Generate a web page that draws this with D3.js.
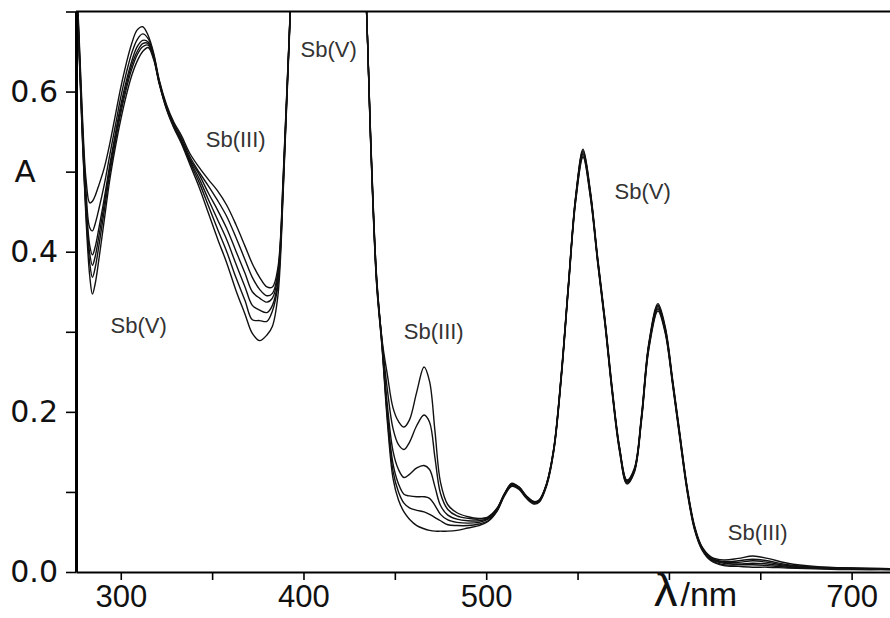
<!DOCTYPE html>
<html>
<head>
<meta charset="utf-8">
<script src="https://cdn.jsdelivr.net/npm/d3@7/dist/d3.min.js"></script>
<style>
body { margin: 0; background: #fff; }
</style>
</head>
<body>
<div id="plot"></div>
<script>
/* spectra: wavelength (nm) and absorbance A, six mixtures */
var wavelength = [275, 277, 279, 281, 283, 284.5, 286, 288, 291, 294, 297, 300, 303, 306, 309, 312, 315, 318, 321, 325,
  329, 333, 338, 343, 348, 353, 358, 363, 368, 372, 376, 380, 383, 386, 389, 392, 396, 405, 425, 431,
  434, 437, 440, 443, 446, 449, 452, 455, 458, 462, 466, 469, 472, 475, 479, 484, 490, 496, 501, 506,
  510, 514, 518, 522, 526, 529, 533, 537, 541, 545, 549, 553, 557, 561, 565, 569, 573, 577, 581, 585,
  589, 594, 598, 602, 606, 610, 614, 618, 623, 630, 638, 646, 654, 665, 680, 700, 725];

var spectrum1 = [0.78, 0.68, 0.57, 0.49, 0.461, 0.463, 0.470, 0.483, 0.505, 0.535, 0.570, 0.605, 0.635, 0.660, 0.677, 0.681, 0.670, 0.648, 0.615, 0.584,
  0.562, 0.546, 0.522, 0.505, 0.490, 0.476, 0.458, 0.434, 0.407, 0.385, 0.368, 0.356, 0.356, 0.380, 0.50, 0.66, 0.85, 1.0, 1.0, 0.85,
  0.73, 0.53, 0.37, 0.29, 0.245, 0.205, 0.188, 0.181, 0.190, 0.225, 0.256, 0.238, 0.175, 0.112, 0.084, 0.074, 0.069, 0.067, 0.069, 0.080,
  0.098, 0.111, 0.106, 0.095, 0.088, 0.090, 0.110, 0.155, 0.245, 0.360, 0.470, 0.528, 0.476, 0.393, 0.316, 0.229, 0.156, 0.115, 0.129, 0.196,
  0.286, 0.335, 0.306, 0.241, 0.173, 0.106, 0.058, 0.032, 0.019, 0.015, 0.017, 0.020, 0.017, 0.011, 0.007, 0.005, 0.004];

var spectrum2 = [0.774, 0.674, 0.561, 0.475, 0.430, 0.426, 0.435, 0.453, 0.484, 0.521, 0.557, 0.593, 0.623, 0.648, 0.665, 0.672, 0.666, 0.646, 0.614, 0.582,
  0.560, 0.543, 0.518, 0.499, 0.482, 0.464, 0.444, 0.418, 0.390, 0.368, 0.353, 0.345, 0.348, 0.374, 0.496, 0.658, 0.85, 1.0, 1.0, 0.85,
  0.73, 0.528, 0.368, 0.288, 0.226, 0.179, 0.159, 0.153, 0.162, 0.183, 0.196, 0.187, 0.142, 0.098, 0.078, 0.070, 0.067, 0.066, 0.068, 0.079,
  0.098, 0.110, 0.106, 0.095, 0.088, 0.090, 0.110, 0.154, 0.244, 0.359, 0.469, 0.526, 0.474, 0.391, 0.314, 0.227, 0.154, 0.114, 0.127, 0.194,
  0.284, 0.333, 0.304, 0.239, 0.171, 0.104, 0.056, 0.031, 0.018, 0.013, 0.014, 0.016, 0.014, 0.009, 0.006, 0.005, 0.004];

var spectrum3 = [0.769, 0.669, 0.554, 0.463, 0.408, 0.396, 0.406, 0.429, 0.467, 0.509, 0.547, 0.583, 0.613, 0.638, 0.656, 0.664, 0.662, 0.644, 0.612, 0.581,
  0.558, 0.540, 0.515, 0.496, 0.473, 0.452, 0.429, 0.401, 0.373, 0.350, 0.342, 0.337, 0.342, 0.370, 0.492, 0.657, 0.85, 1.0, 1.0, 0.85,
  0.73, 0.526, 0.366, 0.286, 0.206, 0.151, 0.128, 0.118, 0.122, 0.130, 0.133, 0.128, 0.106, 0.083, 0.071, 0.066, 0.064, 0.064, 0.067, 0.079,
  0.097, 0.110, 0.105, 0.094, 0.087, 0.089, 0.109, 0.154, 0.243, 0.358, 0.468, 0.524, 0.473, 0.390, 0.313, 0.226, 0.154, 0.113, 0.127, 0.193,
  0.283, 0.332, 0.303, 0.238, 0.170, 0.104, 0.056, 0.030, 0.017, 0.012, 0.012, 0.014, 0.012, 0.008, 0.006, 0.004, 0.004];

var spectrum4 = [0.766, 0.666, 0.549, 0.455, 0.398, 0.383, 0.394, 0.419, 0.460, 0.504, 0.542, 0.578, 0.608, 0.633, 0.650, 0.660, 0.660, 0.643, 0.612, 0.580,
  0.557, 0.539, 0.513, 0.491, 0.465, 0.440, 0.415, 0.385, 0.356, 0.333, 0.327, 0.324, 0.333, 0.363, 0.488, 0.655, 0.85, 1.0, 1.0, 0.85,
  0.73, 0.524, 0.364, 0.284, 0.196, 0.135, 0.110, 0.097, 0.095, 0.094, 0.094, 0.092, 0.083, 0.072, 0.065, 0.062, 0.061, 0.062, 0.066, 0.078,
  0.097, 0.109, 0.105, 0.094, 0.087, 0.089, 0.109, 0.153, 0.242, 0.357, 0.467, 0.522, 0.472, 0.389, 0.312, 0.225, 0.153, 0.112, 0.126, 0.192,
  0.282, 0.330, 0.301, 0.237, 0.169, 0.103, 0.055, 0.030, 0.016, 0.011, 0.010, 0.011, 0.010, 0.007, 0.005, 0.004, 0.003];

var spectrum5 = [0.763, 0.663, 0.545, 0.448, 0.386, 0.368, 0.380, 0.407, 0.452, 0.498, 0.537, 0.573, 0.603, 0.628, 0.646, 0.656, 0.658, 0.642, 0.611, 0.579,
  0.556, 0.538, 0.511, 0.486, 0.457, 0.428, 0.400, 0.368, 0.339, 0.315, 0.314, 0.313, 0.326, 0.358, 0.485, 0.654, 0.85, 1.0, 1.0, 0.85,
  0.73, 0.522, 0.362, 0.282, 0.191, 0.126, 0.100, 0.086, 0.080, 0.077, 0.075, 0.072, 0.068, 0.064, 0.059, 0.058, 0.058, 0.060, 0.064, 0.077,
  0.096, 0.108, 0.104, 0.093, 0.086, 0.088, 0.108, 0.152, 0.241, 0.356, 0.465, 0.520, 0.470, 0.388, 0.311, 0.224, 0.152, 0.111, 0.125, 0.191,
  0.280, 0.328, 0.300, 0.236, 0.168, 0.102, 0.054, 0.029, 0.015, 0.009, 0.009, 0.009, 0.008, 0.006, 0.005, 0.004, 0.003];

var spectrum6 = [0.76, 0.66, 0.54, 0.44, 0.37, 0.347, 0.360, 0.390, 0.440, 0.490, 0.530, 0.565, 0.595, 0.620, 0.638, 0.650, 0.655, 0.640, 0.610, 0.578,
  0.555, 0.536, 0.508, 0.480, 0.448, 0.416, 0.386, 0.352, 0.322, 0.298, 0.289, 0.296, 0.307, 0.345, 0.480, 0.650, 0.85, 1.0, 1.0, 0.85,
  0.73, 0.52, 0.36, 0.28, 0.185, 0.117, 0.090, 0.075, 0.066, 0.058, 0.054, 0.052, 0.051, 0.051, 0.051, 0.052, 0.055, 0.058, 0.063, 0.076,
  0.095, 0.107, 0.103, 0.092, 0.085, 0.087, 0.107, 0.151, 0.239, 0.354, 0.463, 0.518, 0.468, 0.386, 0.309, 0.222, 0.150, 0.110, 0.124, 0.189,
  0.278, 0.326, 0.298, 0.234, 0.166, 0.100, 0.053, 0.028, 0.014, 0.008, 0.007, 0.006, 0.006, 0.005, 0.004, 0.003, 0.003];

var spectra = [spectrum1, spectrum2, spectrum3, spectrum4, spectrum5, spectrum6];

var xTicks = [300, 350, 400, 450, 500, 550, 600, 650, 700];
var xTickLabels = ['300', '', '400', '', '500', '', '', '', '700'];
var yTicks = [0, 0.1, 0.2, 0.3, 0.4, 0.5, 0.6, 0.7];
var yTickLabels = ['0.0', '', '0.2', '', '0.4', '', '0.6', ''];

var noteText = ['Sb(III)', 'Sb(V)', 'Sb(V)', 'Sb(III)', 'Sb(V)', 'Sb(III)'];
var noteWave = [362.9, 413.8, 309.8, 471.3, 585.6, 648.6];
var noteAbs = [0.540, 0.653, 0.308, 0.300, 0.475, 0.049];

/* canvas */
var W = 890, H = 618;
var svg = d3.select('#plot')
  .append('svg')
  .attr('width', W)
  .attr('height', H);

var x = d3.scaleLinear().domain([275.5, 721]).range([76, 890]);
var y = d3.scaleLinear().domain([0, 0.7]).range([572, 11.5]);

svg.append('clipPath')
  .attr('id', 'clip')
  .append('rect')
  .attr('x', x(275.5))
  .attr('y', y(0.7))
  .attr('width', W - x(275.5))
  .attr('height', y(0) - y(0.7));

var line = d3.line()
  .x(function (d, i) { return x(wavelength[i]); })
  .y(function (d) { return y(d); })
  .curve(d3.curveCatmullRom.alpha(0.5));

svg.append('g')
  .attr('clip-path', 'url(#clip)')
  .selectAll('.spectrum')
  .data(spectra)
  .enter()
  .append('path')
  .attr('class', 'spectrum')
  .attr('d', line)
  .style('fill', 'none')
  .style('stroke', '#111')
  .style('stroke-width', 1.4);

/* axes */
var xAxis = d3.axisBottom(x)
  .tickValues(xTicks)
  .tickSize(8)
  .tickSizeOuter(0)
  .tickFormat(function (d, i) { return xTickLabels[i]; });

var gx = svg.append('g')
  .attr('transform', 'translate(0,' + y(0) + ')')
  .call(xAxis);
gx.select('.domain').style('stroke-width', 2);
gx.selectAll('.tick line').style('stroke-width', 1.6);
gx.selectAll('.tick text')
  .attr('y', 13)
  .style('font-family', '"Liberation Sans", Arial, sans-serif')
  .style('font-size', '31px')
  .style('fill', '#111');

var yAxis = d3.axisLeft(y)
  .tickValues(yTicks)
  .tickSize(10)
  .tickSizeOuter(0)
  .tickFormat(function (d, i) { return yTickLabels[i]; });

var gy = svg.append('g')
  .attr('transform', 'translate(' + x(275.5) + ',0)')
  .call(yAxis);
gy.select('.domain').style('stroke-width', 3);
gy.selectAll('.tick line').style('stroke-width', 1.6);
gy.selectAll('.tick text')
  .attr('x', -18)
  .style('font-family', '"DejaVu Sans", Verdana, sans-serif')
  .style('font-size', '30px')
  .style('fill', '#111');

// top frame line
svg.append('line')
  .attr('x1', x(275.5))
  .attr('x2', W)
  .attr('y1', y(0.7))
  .attr('y2', y(0.7))
  .style('stroke', '#000')
  .style('stroke-width', 2);

// axis titles
svg.append('text')
  .attr('x', 25)
  .attr('y', y(0.5))
  .attr('dy', '0.35em')
  .attr('text-anchor', 'middle')
  .style('font-family', '"DejaVu Sans", Verdana, sans-serif')
  .style('font-size', '31px')
  .style('fill', '#111')
  .text('A');

var xt = svg.append('text')
  .attr('x', 654)
  .attr('y', 606)
  .style('font-family', '"Liberation Sans", Arial, sans-serif')
  .style('fill', '#111');
xt.append('tspan').style('font-size', '47px').text('λ');
xt.append('tspan').attr('dx', 3).style('font-size', '34px').text('/nm');

/* annotations */
svg.selectAll('.note')
  .data(noteText)
  .enter()
  .append('text')
  .attr('class', 'note')
  .attr('x', function (d, i) { return x(noteWave[i]); })
  .attr('y', function (d, i) { return y(noteAbs[i]); })
  .attr('dy', '0.35em')
  .attr('text-anchor', 'middle')
  .style('font-family', '"Liberation Sans", Arial, sans-serif')
  .style('font-size', '22px')
  .style('fill', '#333')
  .text(function (d) { return d; });
</script>
</body>
</html>
